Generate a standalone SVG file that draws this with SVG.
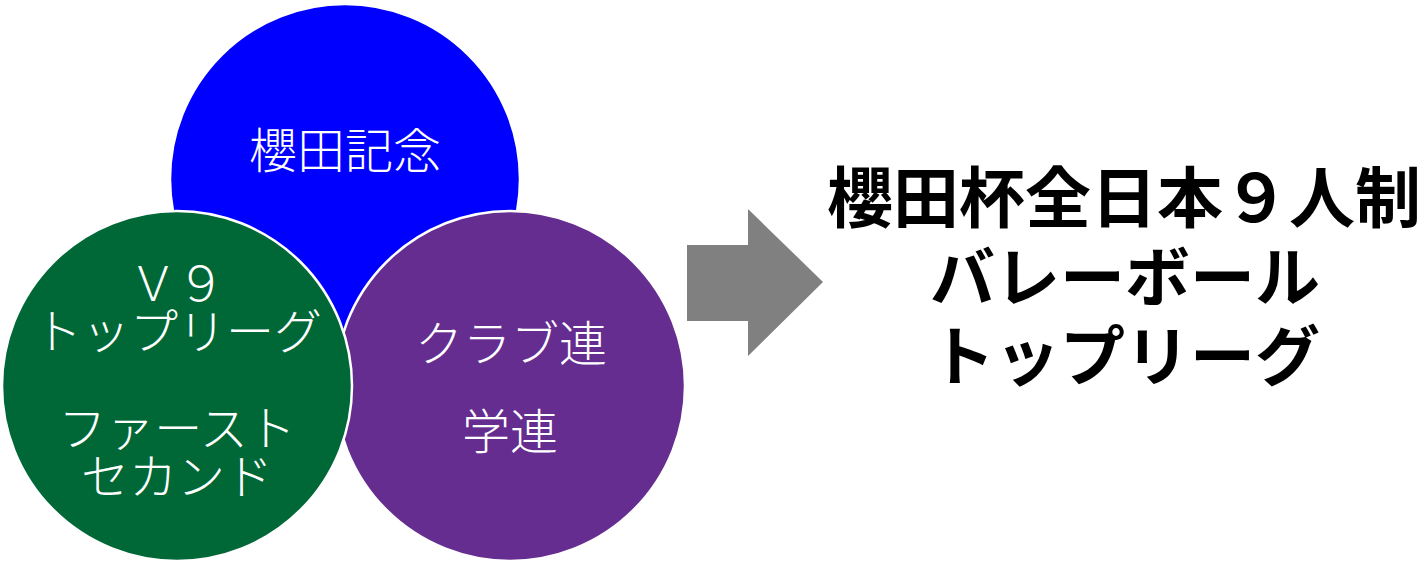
<svg xmlns="http://www.w3.org/2000/svg" width="1425" height="564" viewBox="0 0 1425 564">
<style>
.c{stroke:#fff;stroke-width:2.5}
.t{font-family:"Noto Sans CJK JP","Noto Sans",sans-serif;fill:#fff;font-size:48px;font-weight:300;text-anchor:middle}
.b{font-family:"Noto Sans CJK JP","Noto Sans",sans-serif;fill:#000;font-size:65px;font-weight:bold;text-anchor:middle}
</style>
<rect width="1425" height="564" fill="#fff"/>
<g id="blue">
<circle class="c" cx="345" cy="179" r="175" fill="#0000ff"/>
<text class="t" x="345" y="168">櫻田記念</text>
</g>
<g id="purple">
<circle class="c" cx="510" cy="386" r="175" fill="#652d90"/>
<text class="t" x="511" y="361">クラブ連</text>
<text class="t" x="510" y="449">学連</text>
</g>
<g id="green">
<circle class="c" cx="177" cy="386" r="175" fill="#006837"/>
<text class="t" x="177" y="301">Ｖ９</text>
<text class="t" x="178" y="349">トップリーグ</text>
<text class="t" x="177" y="446">ファースト</text>
<text class="t" x="177" y="494">セカンド</text>
</g>
<g id="connectors">
<polygon points="687,245 748,245 748,209 823,282 748,356 748,321 687,321" fill="#808080"/>
</g>
<g id="result">
<text class="b" x="1124" y="222" style="font-size:66px">櫻田杯全日本９人制</text>
<text class="b" x="1125" y="301">バレーボール</text>
<text class="b" x="1125" y="380">トップリーグ</text>
</g>
</svg>
